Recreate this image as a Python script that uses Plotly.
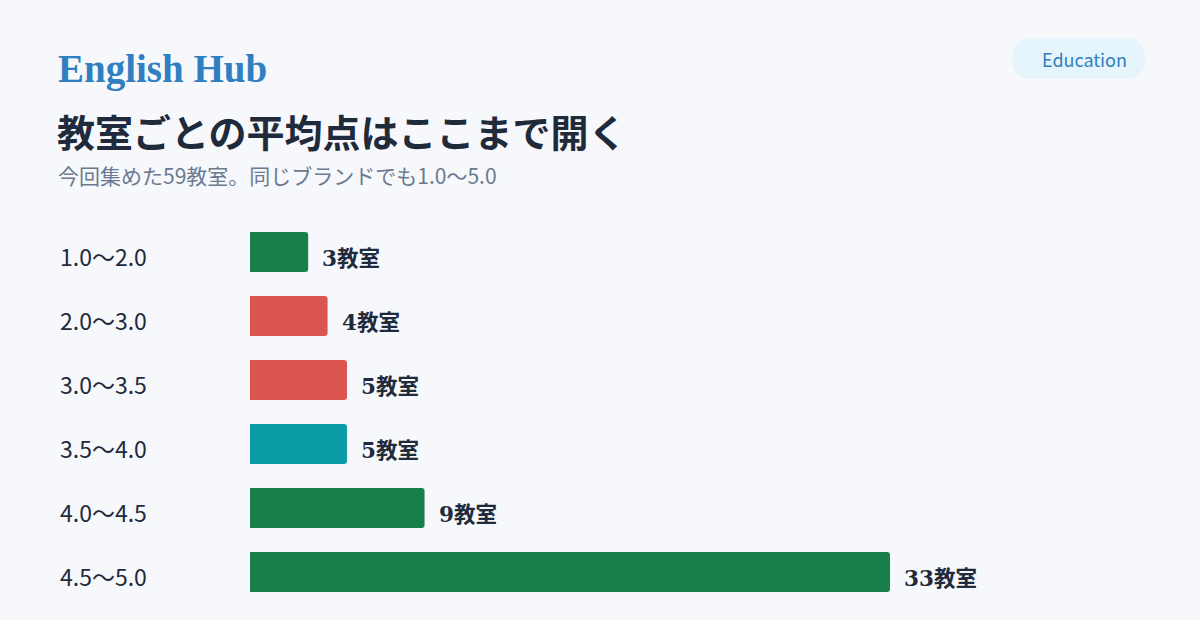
import plotly.graph_objects as go

categories = ["1.0〜2.0", "2.0〜3.0", "3.0〜3.5", "3.5〜4.0", "4.0〜4.5", "4.5〜5.0"]
counts = [3, 4, 5, 5, 9, 33]
bar_colors = ["#177f4a", "#db5550", "#db5550", "#0a9ba6", "#177f4a", "#177f4a"]
value_labels = [f"{c}教室" for c in counts]

brand = "English Hub"
title = "教室ごとの平均点はここまで開く"
subtitle = "今回集めた59教室。同じブランドでも1.0〜5.0"
badge = "Education"

W, H = 1200, 620
ML, MR, MT, MB = 250, 100, 220, 16
plot_w = W - ML - MR
px_per_unit = 640 / 33
xmax = plot_w / px_per_unit

SANS = "Noto Sans CJK JP, Noto Sans, sans-serif"
SERIF = "DejaVu Serif, Noto Sans CJK JP, serif"
SERIF_BRAND = "Liberation Serif, DejaVu Serif, serif"

fig = go.Figure()
fig.add_trace(go.Bar(
    x=counts, y=categories, orientation="h",
    marker=dict(color=bar_colors, line=dict(width=0)),
    width=0.625, hoverinfo="skip",
))

annotations = []
for cat, c, lab in zip(categories, counts, value_labels):
    annotations.append(dict(
        x=c, y=cat, xref="x", yref="y", text=f"<b>{lab}</b>", showarrow=False,
        xanchor="left", yanchor="middle", xshift=12, yshift=-6,
        font=dict(family=SERIF, size=21.5, color="#1f2a3a"),
    ))
    annotations.append(dict(
        x=(58 - ML) / plot_w, y=cat, xref="paper", yref="y", text=cat, showarrow=False,
        xanchor="left", yanchor="middle", yshift=-4,
        font=dict(family=SANS, size=23, color="#1f2a3a"),
    ))

def px_x(p):
    return (p - ML) / plot_w

def px_y(p):
    return 1 - (p - MT) / (H - MT - MB)

annotations += [
    dict(x=px_x(56), y=px_y(69), xref="paper", yref="paper", text=f"<b>{brand}</b>",
         showarrow=False, xanchor="left", yanchor="middle",
         font=dict(family=SERIF_BRAND, size=39, color="#2f7fc1")),
    dict(x=px_x(55), y=px_y(130), xref="paper", yref="paper", text=f"<b>{title}</b>",
         showarrow=False, xanchor="left", yanchor="middle",
         font=dict(family=SANS, size=38, color="#1f2a3a")),
    dict(x=px_x(56), y=px_y(175), xref="paper", yref="paper", text=subtitle,
         showarrow=False, xanchor="left", yanchor="middle",
         font=dict(family=SANS, size=21, color="#6b7a90")),
    dict(x=px_x(1084), y=px_y(59), xref="paper", yref="paper", text=badge,
         showarrow=False, xanchor="center", yanchor="middle",
         font=dict(family=SANS, size=18, color="#2f7fc1")),
]

shapes = [dict(
    type="path", xref="paper", yref="paper",
    path=(f"M {px_x(1032)},{px_y(38)} L {px_x(1125)},{px_y(38)} "
          f"Q {px_x(1145)},{px_y(38)} {px_x(1145)},{px_y(58.5)} "
          f"Q {px_x(1145)},{px_y(79)} {px_x(1125)},{px_y(79)} "
          f"L {px_x(1032)},{px_y(79)} "
          f"Q {px_x(1012)},{px_y(79)} {px_x(1012)},{px_y(58.5)} "
          f"Q {px_x(1012)},{px_y(38)} {px_x(1032)},{px_y(38)} Z"),
    fillcolor="#e6f4fc", line=dict(width=0), layer="below",
)]

fig.update_layout(
    width=W, height=H,
    margin=dict(l=ML, r=MR, t=MT, b=MB),
    paper_bgcolor="#f6f8fc", plot_bgcolor="#f6f8fc",
    showlegend=False, barcornerradius=3,
    xaxis=dict(range=[0, xmax], visible=False, fixedrange=True),
    yaxis=dict(categoryorder="array", categoryarray=categories, autorange="reversed",
               visible=False, fixedrange=True),
    annotations=annotations, shapes=shapes,
)

fig.write_html(
    "out.html",
    config={"displayModeBar": False},
    post_script="document.body.style.margin='0';document.body.style.background='#f6f8fc';",
)
